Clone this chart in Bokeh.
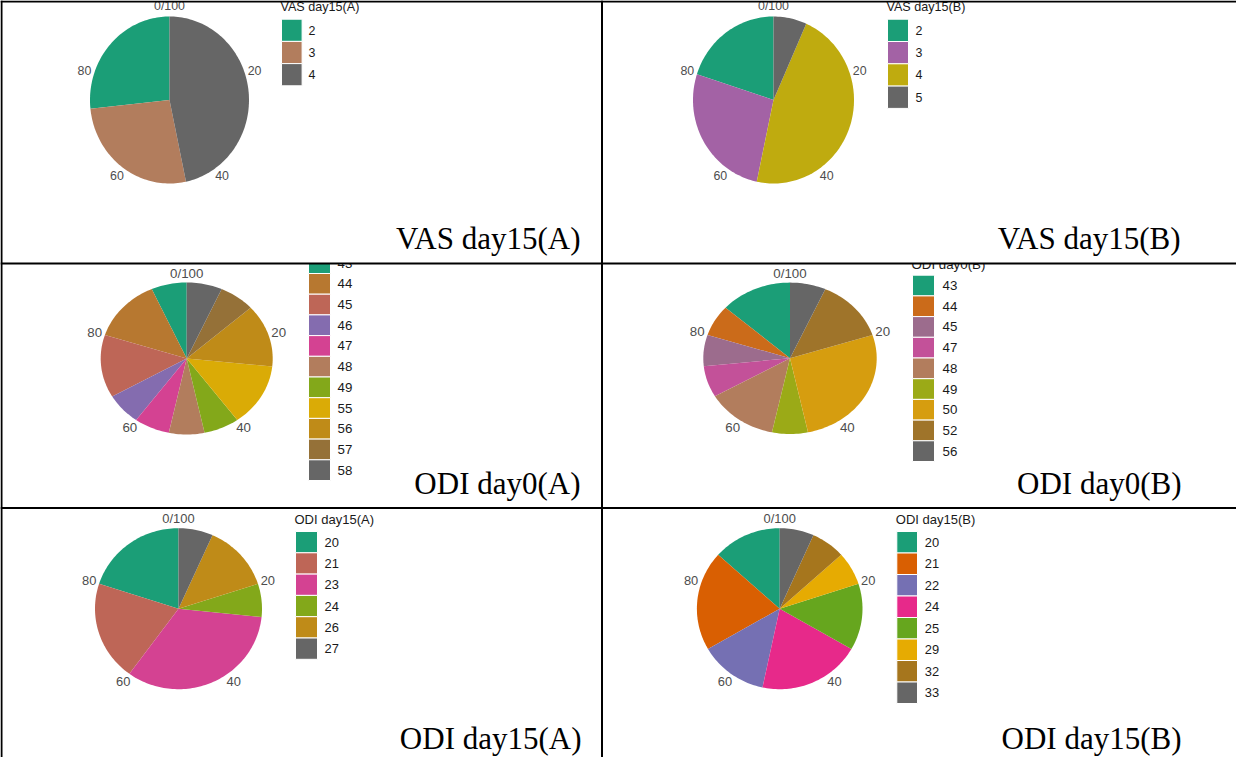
import numpy as np
from bokeh.plotting import figure
from bokeh.models import Range1d
from bokeh.core.properties import value
from bokeh.embed import file_html
from bokeh.resources import INLINE

# ---------------- data ----------------
vas15a_levels = ["2", "3", "4"]
vas15a_counts = [4, 4, 7]
vas15b_levels = ["2", "3", "4", "5"]
vas15b_counts = [3, 4, 7, 1]
odi0a_levels = ["43", "44", "45", "46", "47", "48", "49", "55", "56", "57", "58"]
odi0a_counts = [1, 2, 2, 1, 1, 1, 1, 2, 2, 1, 1]
odi0b_levels = ["43", "44", "45", "47", "48", "49", "50", "52", "56"]
odi0b_counts = [2, 1, 1, 1, 2, 1, 4, 2, 1]
odi15a_levels = ["20", "21", "23", "24", "26", "27"]
odi15a_counts = [3, 3, 5, 1, 2, 1]
odi15b_levels = ["20", "21", "22", "24", "25", "29", "32", "33"]
odi15b_counts = [2, 3, 2, 3, 2, 1, 1, 1]
theta_ticks = [0, 20, 40, 60, 80]
theta_tick_labels = ["0/100", "20", "40", "60", "80"]
chart_titles = ["VAS day15(A)", "VAS day15(B)", "ODI day0(A)", "ODI day0(B)",
                "ODI day15(A)", "ODI day15(B)"]

DARK2 = ["#1B9E77", "#D95F02", "#7570B3", "#E7298A",
         "#66A61E", "#E6AB02", "#A6761D", "#666666"]

# ---------------- colour ramp (Lab interpolation) ----------------
M = np.array([[0.4124564, 0.3575761, 0.1804375],
              [0.2126729, 0.7151522, 0.0721750],
              [0.0193339, 0.1191920, 0.9503041]])
WP = np.array([0.95047, 1.0, 1.08883])


def hex_to_rgb(h):
    return np.array([int(h[i:i + 2], 16) for i in (1, 3, 5)]) / 255.0


def srgb_to_lab(c):
    c = np.where(c <= 0.04045, c / 12.92, ((c + 0.055) / 1.055) ** 2.4)
    t = (M @ c) / WP
    d = 6 / 29
    f = np.where(t > d ** 3, np.cbrt(t), t / (3 * d * d) + 4 / 29)
    return np.array([116 * f[1] - 16, 500 * (f[0] - f[1]), 200 * (f[1] - f[2])])


def lab_to_hex(lab):
    L, a, b = lab
    fy = (L + 16) / 116
    f = np.array([fy + a / 500, fy, fy - b / 200])
    d = 6 / 29
    t = np.where(f > d, f ** 3, 3 * d * d * (f - 4 / 29))
    c = np.linalg.inv(M) @ (t * WP)
    c = np.clip(c, 0, 1)
    c = np.where(c <= 0.0031308, 12.92 * c, 1.055 * c ** (1 / 2.4) - 0.055)
    c = np.clip(c, 0, 1)
    return "#%02x%02x%02x" % tuple(int(round(v * 255)) for v in c)


def ramp(n):
    labs = np.array([srgb_to_lab(hex_to_rgb(h)) for h in DARK2])
    stops = np.linspace(0, 1, len(DARK2))
    return [lab_to_hex(np.array([np.interp(q, stops, labs[:, k]) for k in range(3)]))
            for q in np.linspace(0, 1, n)]


# ---------------- layout (page pixel coordinates) ----------------
W, H = 1236, 757
p = figure(width=W, height=H, x_range=Range1d(8, 8 + W), y_range=Range1d(8 + H, 8),
           output_backend="svg", toolbar_location=None, min_border=0,
           x_axis_location=None, y_axis_location=None)
p.grid.visible = False
p.outline_line_color = None
p.background_fill_color = "white"
p.border_fill_color = "white"

SANS = value("Liberation Sans")
SERIF = value("Liberation Serif")

charts = [
    dict(levels=vas15a_levels, counts=vas15a_counts, title=chart_titles[0],
         cx=177, cy=107.5, rx=79.5, ry=83.5, fs="12.4px",
         lx=289, lw=20.6, ltop=26.7, lh=22.2, tx=316, ttl_y=14, ttl_fs="12.6px",
         big_x=588, big_y=246),
    dict(levels=vas15b_levels, counts=vas15b_counts, title=chart_titles[1],
         cx=781, cy=107.5, rx=80.5, ry=83.5, fs="12.4px",
         lx=895, lw=21, ltop=26.7, lh=22.3, tx=923, ttl_y=14, ttl_fs="12.6px",
         big_x=1188, big_y=246),
    dict(levels=odi0a_levels, counts=odi0a_counts, title=chart_titles[2],
         cx=194.2, cy=366, rx=86, ry=76, fs="13.3px",
         lx=316, lw=22, ltop=260.3, lh=20.7, tx=345, ttl_y=249, ttl_fs="13.3px",
         big_x=588, big_y=491),
    dict(levels=odi0b_levels, counts=odi0b_counts, title=chart_titles[3],
         cx=797.5, cy=365.8, rx=86.7, ry=75.7, fs="13.3px",
         lx=920, lw=22, ltop=282.7, lh=20.7, tx=950, ttl_y=272, ttl_fs="13.3px",
         big_x=1189, big_y=491),
    dict(levels=odi15a_levels, counts=odi15a_counts, title=chart_titles[4],
         cx=186, cy=616.2, rx=83.5, ry=80.5, fs="12.9px",
         lx=303, lw=22, ltop=539, lh=21.3, tx=332, ttl_y=526.7, ttl_fs="13px",
         big_x=589, big_y=746),
    dict(levels=odi15b_levels, counts=odi15b_counts, title=chart_titles[5],
         cx=787.2, cy=616.2, rx=82.8, ry=80.5, fs="12.9px",
         lx=904.3, lw=20.7, ltop=539, lh=21.5, tx=932.3, ttl_y=526.7, ttl_fs="13px",
         big_x=1189, big_y=746),
]

for ch in charts:
    levels, counts = ch["levels"], ch["counts"]
    n = len(levels)
    cols = ramp(n)
    total = float(sum(counts))
    cx, cy, rx, ry = ch["cx"], ch["cy"], ch["rx"], ch["ry"]
    # slices: last level starts at the top, stacking clockwise
    xs, ys = [], []
    for i in range(n):
        start = sum(counts[i + 1:]) / total
        end = sum(counts[i:]) / total
        npts = max(3, int(np.ceil((end - start) * 240)))
        t = 2 * np.pi * np.linspace(start, end, npts)
        xs.append([cx] + list(cx + rx * np.sin(t)))
        ys.append([cy] + list(cy - ry * np.cos(t)))
    p.patches(xs, ys, fill_color=cols, line_color=None)
    # theta axis labels
    th = 2 * np.pi * np.array(theta_ticks) / 100.0
    p.text(x=list(cx + 1.125 * rx * np.sin(th)), y=list(cy - 1.125 * ry * np.cos(th)),
           text=theta_tick_labels, text_font=SANS, text_font_size=value(ch["fs"]),
           text_color="#4D4D4D", text_align="center", text_baseline="middle")
    # legend
    tops = [ch["ltop"] + k * ch["lh"] for k in range(n)]
    p.quad(left=ch["lx"], right=ch["lx"] + ch["lw"], top=tops,
           bottom=[tt + ch["lh"] for tt in tops], fill_color=cols,
           line_color="white", line_width=1)
    p.text(x=ch["tx"], y=[tt + ch["lh"] / 2 for tt in tops], text=levels,
           text_font=SANS, text_font_size=value(ch["fs"]), text_color="#1A1A1A",
           text_align="left", text_baseline="middle")
    p.text(x=[ch["lx"] - 1], y=[ch["ttl_y"]], text=[ch["title"]], text_font=SANS,
           text_font_size=value(ch["ttl_fs"]), text_color="#1A1A1A",
           text_align="left", text_baseline="middle")

# middle-row plot images are cropped at their top edge
p.quad(left=[300, 905], right=[400, 1000], top=[236, 236], bottom=[271, 271],
       fill_color="white", line_color=None)

# big captions in the table cells
for ch in charts:
    p.text(x=[ch["big_x"]], y=[ch["big_y"]], text=[ch["title"]], text_font=SERIF,
           text_font_size=value("31px"), text_color="black",
           text_align="right", text_baseline="middle")

# table borders
p.segment(x0=[8, 8, 8, 8, 9, 609.5], y0=[9, 271, 515.5, 9, 8, 8],
          x1=[1244, 1244, 1244, 8, 9, 609.5], y1=[9, 271, 515.5, 9, 765, 765],
          line_color="black", line_width=2)

open("out.html", "w").write(file_html(p, INLINE))
